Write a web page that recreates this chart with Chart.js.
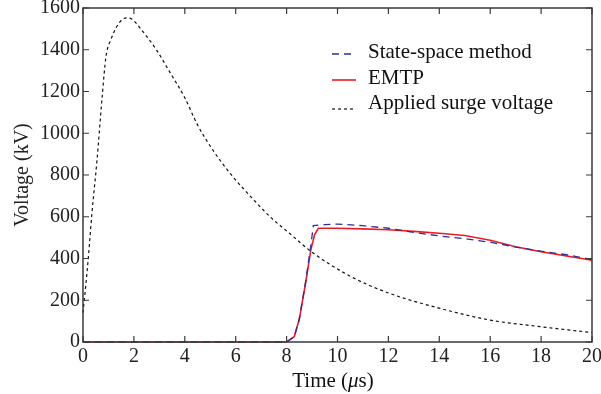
<!DOCTYPE html>
<html>
<head>
<meta charset="utf-8">
<script src="https://cdn.jsdelivr.net/npm/chart.js@4.4.1/dist/chart.umd.min.js"></script>
<style>
  html, body { margin: 0; padding: 0; background: #fff; }
  #wrap { width: 601px; height: 394px; }
</style>
</head>
<body>
<div id="wrap"><canvas id="chart" width="601" height="394"></canvas></div>
<script>
// time axis in microseconds, voltage in kV
const surgeT = [0, 0.1, 0.2, 0.35, 0.55, 0.75, 0.9, 1.1, 1.3, 1.5, 1.7, 1.9, 2.3, 2.9, 3.4, 4.0, 4.5, 5.1, 5.8, 6.6, 7.35, 8.1, 9.0, 10.5, 12, 14, 16, 18, 20];
const surgeV = [140, 260, 390, 615, 870, 1170, 1365, 1450, 1505, 1540, 1553, 1548, 1495, 1397, 1295, 1170, 1040, 920, 805, 695, 600, 522, 430, 315, 235, 162, 105, 73, 45];

const emtpT = [0, 8.0, 8.3, 8.5, 8.75, 8.95, 9.1, 9.25, 10, 11, 12, 13, 14, 15, 16, 17, 18, 19, 20];
const emtpV = [0, 0, 25, 110, 285, 440, 515, 545, 545, 542, 538, 530, 521, 510, 487, 456, 432, 412, 392];

const ssT = [0, 8.0, 8.3, 8.5, 8.75, 8.95, 9.05, 9.5, 10, 11, 12, 13, 14, 15, 16, 17, 18, 19, 20];
const ssV = [0, 0, 25, 110, 290, 460, 558, 562, 565, 557, 545, 525, 508, 495, 478, 455, 435, 418, 395];

const yTicks = [0, 200, 400, 600, 800, 1000, 1200, 1400, 1600];
const xTicks = [0, 2, 4, 6, 8, 10, 12, 14, 16, 18, 20];

const serif = "'Liberation Serif', 'Times New Roman', serif";
const toPoints = (xs, ys) => xs.map((x, i) => ({ x: x, y: ys[i] }));

// frame, inward ticks, legend and the x title
const decor = {
  id: "decor",
  afterDatasetsDraw(chart) {
    const { ctx, chartArea: a, scales } = chart;
    ctx.save();
    ctx.strokeStyle = "#3a3a3a";
    ctx.lineWidth = 1.5;
    ctx.strokeRect(a.left, a.top, a.right - a.left, a.bottom - a.top);

    ctx.lineWidth = 1.2;
    ctx.beginPath();
    xTicks.forEach((t) => {
      const px = scales.x.getPixelForValue(t);
      ctx.moveTo(px, a.bottom); ctx.lineTo(px, a.bottom - 6);
      ctx.moveTo(px, a.top); ctx.lineTo(px, a.top + 6);
    });
    yTicks.forEach((t) => {
      const py = scales.y.getPixelForValue(t);
      ctx.moveTo(a.left, py); ctx.lineTo(a.left + 6, py);
      ctx.moveTo(a.right, py); ctx.lineTo(a.right - 6, py);
    });
    ctx.stroke();

    // legend
    const rows = [
      { ds: 0, y: 52, lineY: 54 },
      { ds: 1, y: 78, lineY: 80 },
      { ds: 2, y: 103, lineY: 109 },
    ];
    ctx.font = "21px " + serif;
    ctx.textBaseline = "middle";
    ctx.fillStyle = "#111";
    rows.forEach((r) => {
      const d = chart.data.datasets[r.ds];
      ctx.strokeStyle = d.borderColor;
      ctx.lineWidth = d.borderWidth;
      ctx.setLineDash(d.borderDash || []);
      ctx.beginPath();
      ctx.moveTo(332, r.lineY);
      ctx.lineTo(356, r.lineY);
      ctx.stroke();
      ctx.setLineDash([]);
      ctx.fillText(d.label, 368, r.y);
    });

    // x title with italic mu
    const parts = [
      { t: "Time (", f: "21px " + serif },
      { t: "\u03bc", f: "italic 21px " + serif },
      { t: "s)", f: "21px " + serif },
    ];
    let w = 0;
    parts.forEach((p) => { ctx.font = p.f; w += ctx.measureText(p.t).width; });
    let x = 333 - w / 2;
    parts.forEach((p) => {
      ctx.font = p.f;
      ctx.fillText(p.t, x, 381);
      x += ctx.measureText(p.t).width;
    });
    ctx.restore();
  },
};

new Chart(document.getElementById("chart"), {
  type: "line",
  data: {
    datasets: [
      {
        label: "State-space method",
        data: toPoints(ssT, ssV),
        borderColor: "#2a2f9a",
        borderWidth: 1.3,
        borderDash: [7, 5],
      },
      {
        label: "EMTP",
        data: toPoints(emtpT, emtpV),
        borderColor: "#ec1c24",
        borderWidth: 1.6,
      },
      {
        label: "Applied surge voltage",
        data: toPoints(surgeT, surgeV),
        borderColor: "#111",
        borderWidth: 1.2,
        borderDash: [3, 3],
        cubicInterpolationMode: "monotone",
      },
    ],
  },
  options: {
    responsive: false,
    animation: false,
    clip: 3,
    elements: { point: { radius: 0 }, line: { tension: 0 } },
    layout: { padding: { top: 8, right: 9, left: 0, bottom: 0 } },
    plugins: { legend: { display: false }, tooltip: { enabled: false } },
    scales: {
      x: {
        type: "linear",
        min: 0,
        max: 20,
        afterFit: (s) => { s.height = 52; s.paddingLeft = 0; s.paddingRight = 0; },
        afterBuildTicks: (s) => { s.ticks = xTicks.map((v) => ({ value: v })); },
        grid: { display: false, drawTicks: false },
        border: { display: false },
        ticks: {
          color: "#222",
          font: { family: serif, size: 20 },
          padding: 3,
          autoSkip: false,
          maxRotation: 0,
        },
      },
      y: {
        min: 0,
        max: 1600,
        afterFit: (s) => { s.width = 83; s.paddingTop = 0; s.paddingBottom = 0; },
        afterBuildTicks: (s) => { s.ticks = yTicks.map((v) => ({ value: v })); },
        grid: { display: false, drawTicks: false },
        border: { display: false },
        ticks: {
          color: "#222",
          font: { family: serif, size: 20 },
          padding: 3,
          callback: (v) => String(v),
        },
        title: {
          display: true,
          text: "Voltage (kV)",
          color: "#222",
          font: { family: serif, size: 20 },
          padding: { top: 11, bottom: 0 },
        },
      },
    },
  },
  plugins: [decor],
});
</script>
</body>
</html>
